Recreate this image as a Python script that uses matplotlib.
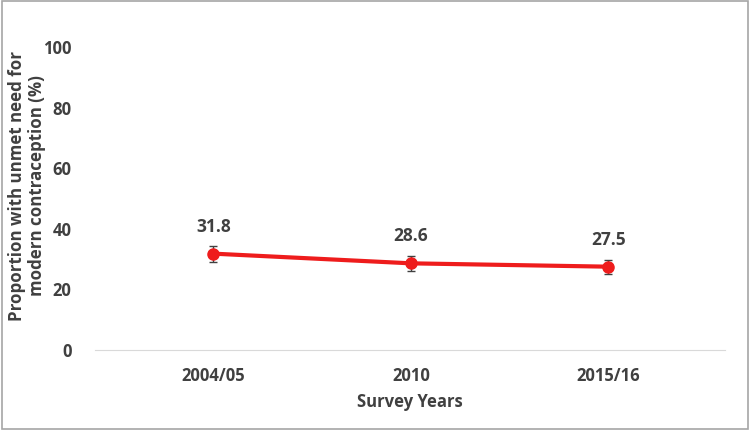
import matplotlib.pyplot as plt
from matplotlib.patches import Rectangle

years = ['2004/05', '2010', '2015/16']
unmet = [31.8, 28.6, 27.5]
err = [2.6, 2.5, 2.3]
yticks = [0, 20, 40, 60, 80, 100]

txt_color = '#404040'
plt.rcParams['font.family'] = ['Open Sans', 'DejaVu Sans']
plt.rcParams['font.weight'] = 'bold'

fig = plt.figure(figsize=(7.5, 4.3), dpi=100)
ax = fig.add_axes([95/750, 80/430, 630/750, 303/430])

x = list(range(len(years)))
ax.errorbar(x, unmet, yerr=err, color='#ee1c1c', lw=3, marker='o', ms=8,
            ecolor='#404040', elinewidth=1, capsize=3, capthick=1, zorder=3)
for i in range(len(x)):
    ax.annotate(str(unmet[i]), (x[i], unmet[i]), xytext=(0, 13), textcoords='offset points',
                ha='center', va='bottom', fontsize=12.5, fontweight='bold', color=txt_color)

ax.set_xlim(-0.6, 2.59)
ax.set_ylim(0, 100)
ax.set_xticks(x)
ax.set_xticklabels(years)
ax.set_yticks(yticks)
for s in ['top', 'right', 'left']:
    ax.spines[s].set_visible(False)
ax.spines['bottom'].set_color('#d9d9d9')
ax.tick_params(axis='both', length=0, labelsize=12, labelcolor=txt_color)
ax.tick_params(axis='x', pad=12)
ax.tick_params(axis='y', pad=17)
for lab in ax.get_xticklabels() + ax.get_yticklabels():
    lab.set_fontweight('bold')

ax.set_xlabel('Survey Years', fontsize=12, fontweight='bold', color=txt_color, labelpad=6)
fig.text(27/750, 1 - 186/430, 'Proportion with unmet need for\nmodern contraception (%)',
         rotation=90, ha='center', va='center', fontsize=12.2, fontweight='bold',
         color=txt_color, linespacing=1.1)

fig.patches.append(Rectangle((0.002, 0.003), 0.995, 0.994, transform=fig.transFigure,
                             fill=False, edgecolor='#a6a6a6', lw=1.2))

fig.savefig('out.png')
